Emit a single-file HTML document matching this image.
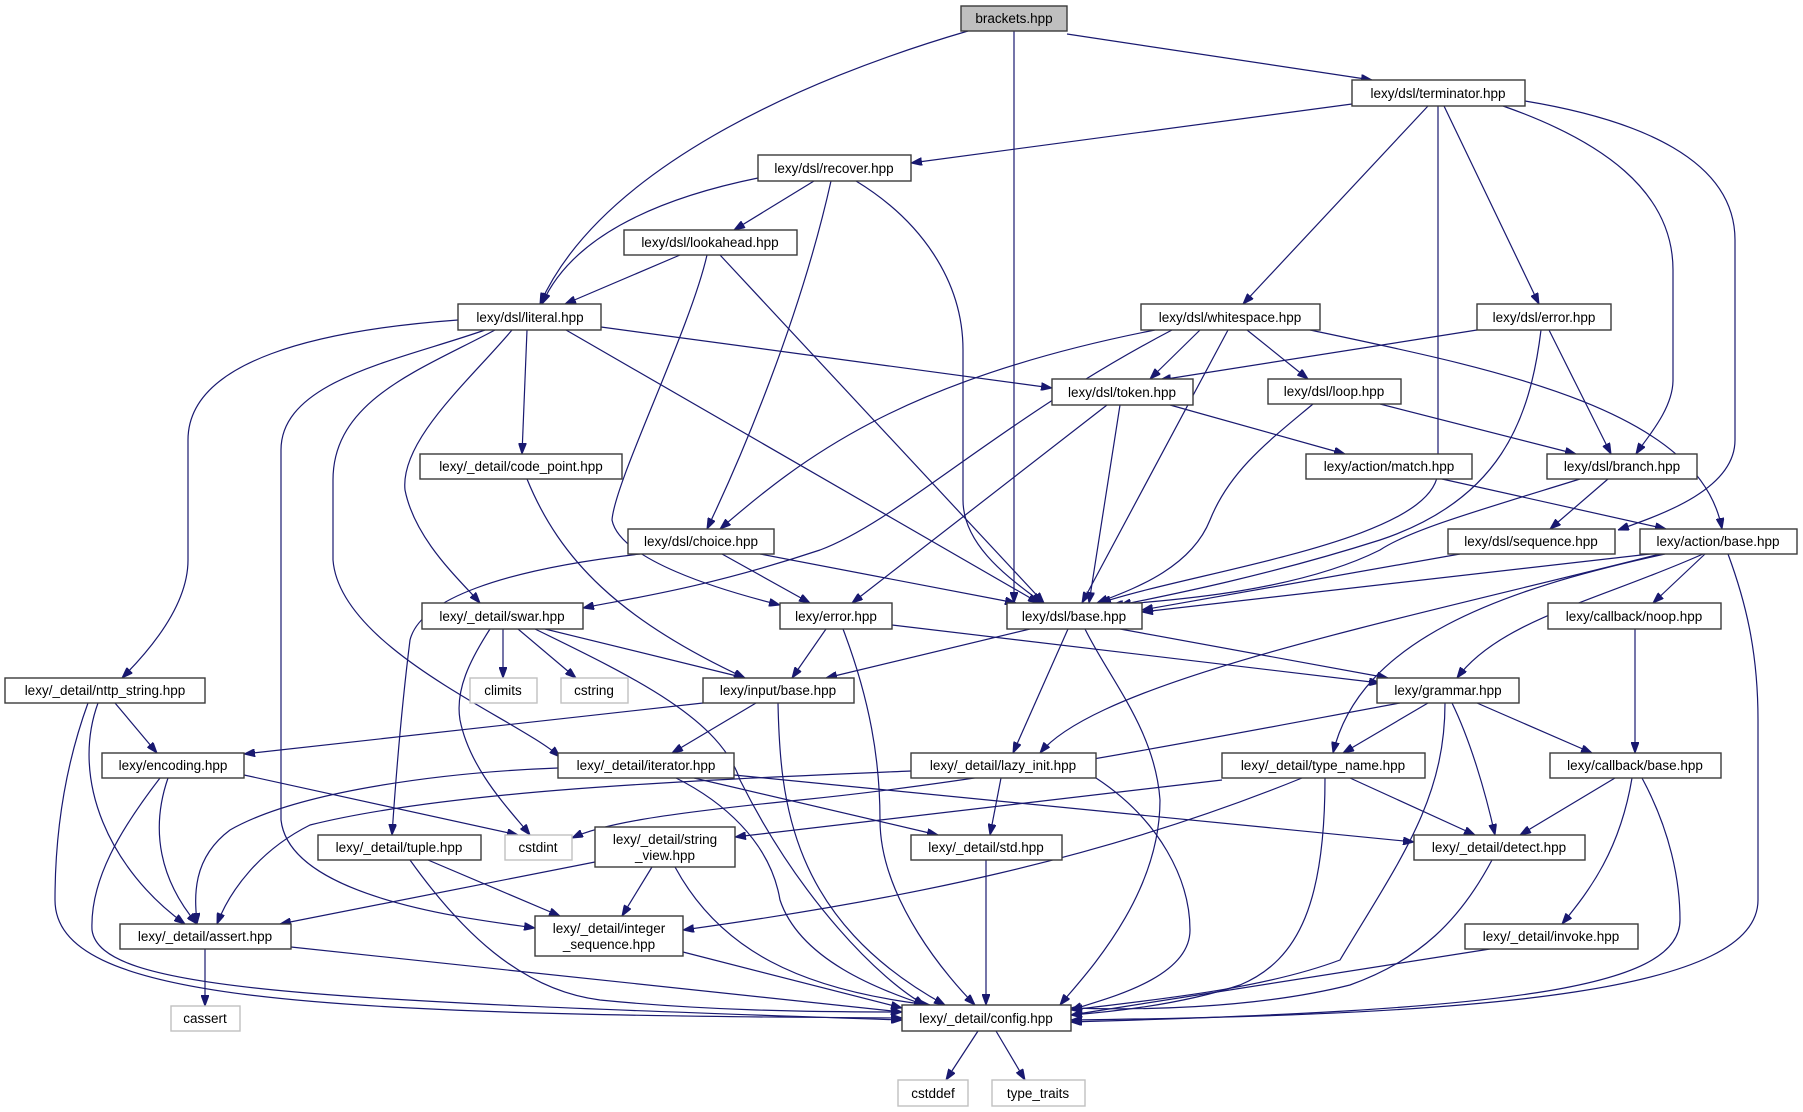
<!DOCTYPE html>
<html><head><meta charset="utf-8"><style>
html,body{margin:0;padding:0;background:#fff;}
svg{display:block;}
text{font-family:"Liberation Sans",sans-serif;font-size:13.5px;fill:#000;text-anchor:middle;}
.n{fill:#fff;stroke:#3a3a3a;stroke-width:1.4;}
.g{fill:#fff;stroke:#c0c0c0;stroke-width:1.4;}
.e{fill:none;stroke:#191970;stroke-width:1.2;marker-end:url(#a);}
</style></head><body>
<svg width="1803" height="1112" viewBox="0 0 1803 1112" xmlns="http://www.w3.org/2000/svg">
<defs><marker id="a" markerUnits="userSpaceOnUse" markerWidth="11" markerHeight="8" refX="11" refY="4" orient="auto"><path d="M0,0 L11,4 L0,8 z" fill="#191970" stroke="#191970"/></marker></defs>
<g>
<path class="e" d="M968,31 C800,80 600,170 540,304"/>
<path class="e" d="M1014,31 L1014,603"/>
<path class="e" d="M1067,34 L1372,80"/>
<path class="e" d="M1352,104 L911,163"/>
<path class="e" d="M1428,106 L1243,304"/>
<path class="e" d="M1438,106 L1438,470 C1438,540 1200,570 1100,603"/>
<path class="e" d="M1444,106 L1539,304"/>
<path class="e" d="M1503,106 C1600,140 1673,190 1673,270 L1673,380 C1673,410 1645,440 1636,454"/>
<path class="e" d="M1525,101 C1640,120 1735,160 1735,240 L1735,440 C1735,490 1660,515 1618,530"/>
<path class="e" d="M758,178 C650,200 570,240 542,304"/>
<path class="e" d="M814,181 L734,230"/>
<path class="e" d="M831,181 C800,320 740,460 707,529"/>
<path class="e" d="M856,181 C920,220 963,280 963,350 L963,500 C963,550 1020,585 1042,603"/>
<path class="e" d="M680,255 L565,304"/>
<path class="e" d="M707,255 C690,330 615,480 612,520 C620,560 720,590 780,605"/>
<path class="e" d="M720,255 L1044,603"/>
<path class="e" d="M601,327 L1052,388"/>
<path class="e" d="M566,330 L1039,603"/>
<path class="e" d="M527,330 L522,454"/>
<path class="e" d="M512,330 C470,380 400,440 405,490 C415,540 460,580 480,603"/>
<path class="e" d="M495,330 C420,370 333,400 333,480 L333,560 C340,650 520,720 560,757"/>
<path class="e" d="M485,330 C400,360 281,380 281,450 L281,820 C290,900 480,920 535,928"/>
<path class="e" d="M458,320 C320,330 188,360 188,440 L188,560 C188,610 140,660 122,678"/>
<path class="e" d="M1200,330 L1150,379"/>
<path class="e" d="M1228,330 L1082,603"/>
<path class="e" d="M1247,330 L1308,379"/>
<path class="e" d="M1310,330 C1500,370 1700,410 1722,529"/>
<path class="e" d="M1155,330 C900,380 800,460 720,529"/>
<path class="e" d="M1172,330 C1000,420 900,520 820,550 C700,590 620,600 583,608"/>
<path class="e" d="M1477,330 L1160,380"/>
<path class="e" d="M1541,330 C1530,420 1500,500 1380,540 C1270,575 1170,595 1120,605"/>
<path class="e" d="M1549,330 L1611,454"/>
<path class="e" d="M1120,405 L1089,603"/>
<path class="e" d="M1107,405 L852,603"/>
<path class="e" d="M1170,405 L1345,454"/>
<path class="e" d="M1313,404 C1270,440 1230,470 1210,520 C1190,570 1130,590 1097,603"/>
<path class="e" d="M1380,404 L1576,454"/>
<path class="e" d="M1442,479 L1666,529"/>
<path class="e" d="M1608,479 L1550,529"/>
<path class="e" d="M1580,479 C1480,510 1410,530 1380,550 C1300,590 1180,600 1112,605"/>
<path class="e" d="M1460,554 L1142,610"/>
<path class="e" d="M1650,554 L1142,612"/>
<path class="e" d="M1703,554 C1600,600 1500,620 1457,678"/>
<path class="e" d="M1705,554 L1653,603"/>
<path class="e" d="M1728,554 C1745,600 1758,650 1758,720 L1758,900 C1758,990 1500,1015 1071,1020"/>
<path class="e" d="M1660,554 C1400,620 1100,680 1040,753"/>
<path class="e" d="M1665,554 C1500,590 1360,640 1333,753"/>
<path class="e" d="M640,554 C500,570 420,600 410,640 C400,720 395,790 392,835"/>
<path class="e" d="M722,554 L810,603"/>
<path class="e" d="M760,554 L1016,603"/>
<path class="e" d="M503,629 L503,678"/>
<path class="e" d="M518,629 L576,678"/>
<path class="e" d="M545,629 L745,678"/>
<path class="e" d="M535,629 C640,680 720,720 740,780 C800,900 880,980 925,1005"/>
<path class="e" d="M490,629 C470,660 455,690 460,720 C470,770 510,810 530,835"/>
<path class="e" d="M826,629 L792,678"/>
<path class="e" d="M892,625 L1380,683"/>
<path class="e" d="M843,629 C870,700 880,760 880,820 C880,900 950,980 975,1005"/>
<path class="e" d="M1030,629 L826,678"/>
<path class="e" d="M1120,629 L1388,678"/>
<path class="e" d="M1068,629 L1013,753"/>
<path class="e" d="M1085,629 C1110,680 1155,730 1160,800 C1160,900 1080,980 1060,1005"/>
<path class="e" d="M527,479 C560,560 620,620 745,678"/>
<path class="e" d="M115,703 L157,753"/>
<path class="e" d="M98,703 C70,780 110,870 185,924"/>
<path class="e" d="M88,703 C60,780 55,850 55,900 C55,1000 300,1015 902,1018"/>
<path class="e" d="M703,703 L244,754"/>
<path class="e" d="M756,703 L672,753"/>
<path class="e" d="M778,703 C780,800 790,920 945,1005"/>
<path class="e" d="M1428,703 L1343,753"/>
<path class="e" d="M1477,703 L1592,753"/>
<path class="e" d="M1452,703 C1470,740 1485,790 1495,835"/>
<path class="e" d="M1445,703 C1445,800 1400,860 1340,960 C1260,990 1150,1000 1071,1010"/>
<path class="e" d="M1400,703 C1200,740 1000,780 800,800 C650,815 600,825 572,838"/>
<path class="e" d="M244,775 L518,835"/>
<path class="e" d="M168,778 C150,830 160,880 197,924"/>
<path class="e" d="M160,778 C120,830 90,880 92,930 C100,990 300,1000 902,1020"/>
<path class="e" d="M558,768 C450,772 300,790 230,830 C190,860 195,900 197,924"/>
<path class="e" d="M676,778 C720,800 770,840 780,900 C800,960 880,990 925,1005"/>
<path class="e" d="M694,778 L938,835"/>
<path class="e" d="M734,775 L1414,842"/>
<path class="e" d="M911,771 C700,780 450,790 310,825 C260,850 230,890 217,924"/>
<path class="e" d="M1001,778 L990,835"/>
<path class="e" d="M1096,778 C1160,820 1190,880 1190,930 C1190,980 1100,1000 1071,1010"/>
<path class="e" d="M1222,780 L735,837"/>
<path class="e" d="M1302,778 C1100,860 900,900 683,930"/>
<path class="e" d="M1350,778 L1475,835"/>
<path class="e" d="M1325,778 C1325,900 1300,960 1240,985 C1180,1005 1110,1012 1071,1015"/>
<path class="e" d="M1615,778 L1520,835"/>
<path class="e" d="M1632,778 C1620,850 1590,890 1562,924"/>
<path class="e" d="M1642,778 C1670,830 1680,880 1680,920 C1680,990 1500,1010 1071,1022"/>
<path class="e" d="M1635,629 L1635,753"/>
<path class="e" d="M428,860 L560,916"/>
<path class="e" d="M410,860 C460,930 520,990 600,1000 C700,1010 800,1012 902,1012"/>
<path class="e" d="M595,862 L280,924"/>
<path class="e" d="M652,867 L622,916"/>
<path class="e" d="M675,867 C720,950 800,990 930,1005"/>
<path class="e" d="M986,860 L986,1005"/>
<path class="e" d="M1492,860 C1460,920 1420,960 1350,985 C1250,1010 1130,1010 1071,1008"/>
<path class="e" d="M205,949 L205,1006"/>
<path class="e" d="M291,947 L902,1012"/>
<path class="e" d="M683,952 L902,1008"/>
<path class="e" d="M1490,949 L1071,1015"/>
<path class="e" d="M978,1031 L946,1080"/>
<path class="e" d="M996,1031 L1025,1080"/>
</g>
<g>
<rect x="961" y="6" width="106" height="25" fill="#bfbfbf" stroke="#3a3a3a" stroke-width="1.4"/><text x="1014" y="23">brackets.hpp</text>
<rect class="n" x="1352" y="80" width="173" height="26"/><text x="1438" y="98">lexy/dsl/terminator.hpp</text>
<rect class="n" x="758" y="155" width="153" height="26"/><text x="834" y="173">lexy/dsl/recover.hpp</text>
<rect class="n" x="624" y="230" width="173" height="25"/><text x="710" y="247">lexy/dsl/lookahead.hpp</text>
<rect class="n" x="458" y="304" width="143" height="26"/><text x="530" y="322">lexy/dsl/literal.hpp</text>
<rect class="n" x="1141" y="304" width="179" height="26"/><text x="1230" y="322">lexy/dsl/whitespace.hpp</text>
<rect class="n" x="1477" y="304" width="134" height="26"/><text x="1544" y="322">lexy/dsl/error.hpp</text>
<rect class="n" x="1052" y="379" width="141" height="26"/><text x="1122" y="397">lexy/dsl/token.hpp</text>
<rect class="n" x="1268" y="379" width="133" height="25"/><text x="1334" y="396">lexy/dsl/loop.hpp</text>
<rect class="n" x="420" y="454" width="202" height="25"/><text x="521" y="471">lexy/_detail/code_point.hpp</text>
<rect class="n" x="1306" y="454" width="166" height="25"/><text x="1389" y="471">lexy/action/match.hpp</text>
<rect class="n" x="1547" y="454" width="150" height="25"/><text x="1622" y="471">lexy/dsl/branch.hpp</text>
<rect class="n" x="628" y="529" width="146" height="25"/><text x="701" y="546">lexy/dsl/choice.hpp</text>
<rect class="n" x="1448" y="529" width="167" height="25"/><text x="1531" y="546">lexy/dsl/sequence.hpp</text>
<rect class="n" x="1640" y="529" width="157" height="25"/><text x="1718" y="546">lexy/action/base.hpp</text>
<rect class="n" x="422" y="603" width="161" height="26"/><text x="502" y="621">lexy/_detail/swar.hpp</text>
<rect class="n" x="780" y="603" width="112" height="26"/><text x="836" y="621">lexy/error.hpp</text>
<rect class="n" x="1007" y="603" width="135" height="26"/><text x="1074" y="621">lexy/dsl/base.hpp</text>
<rect class="n" x="1548" y="603" width="173" height="26"/><text x="1634" y="621">lexy/callback/noop.hpp</text>
<rect class="n" x="5" y="678" width="200" height="25"/><text x="105" y="695">lexy/_detail/nttp_string.hpp</text>
<rect class="g" x="470" y="678" width="67" height="25"/><text x="503" y="695">climits</text>
<rect class="g" x="561" y="678" width="67" height="25"/><text x="594" y="695">cstring</text>
<rect class="n" x="703" y="678" width="151" height="25"/><text x="778" y="695">lexy/input/base.hpp</text>
<rect class="n" x="1377" y="678" width="142" height="25"/><text x="1448" y="695">lexy/grammar.hpp</text>
<rect class="n" x="102" y="753" width="142" height="25"/><text x="173" y="770">lexy/encoding.hpp</text>
<rect class="n" x="558" y="753" width="176" height="25"/><text x="646" y="770">lexy/_detail/iterator.hpp</text>
<rect class="n" x="911" y="753" width="185" height="25"/><text x="1003" y="770">lexy/_detail/lazy_init.hpp</text>
<rect class="n" x="1222" y="753" width="203" height="25"/><text x="1323" y="770">lexy/_detail/type_name.hpp</text>
<rect class="n" x="1550" y="753" width="171" height="25"/><text x="1635" y="770">lexy/callback/base.hpp</text>
<rect class="n" x="318" y="835" width="163" height="25"/><text x="399" y="852">lexy/_detail/tuple.hpp</text>
<rect class="g" x="505" y="835" width="67" height="25"/><text x="538" y="852">cstdint</text>
<rect class="n" x="595" y="827" width="140" height="40"/><text x="665" y="844">lexy/_detail/string</text><text x="665" y="860">_view.hpp</text>
<rect class="n" x="911" y="835" width="151" height="25"/><text x="986" y="852">lexy/_detail/std.hpp</text>
<rect class="n" x="1414" y="835" width="171" height="25"/><text x="1499" y="852">lexy/_detail/detect.hpp</text>
<rect class="n" x="120" y="924" width="171" height="25"/><text x="205" y="941">lexy/_detail/assert.hpp</text>
<rect class="n" x="535" y="916" width="148" height="40"/><text x="609" y="933">lexy/_detail/integer</text><text x="609" y="949">_sequence.hpp</text>
<rect class="n" x="1465" y="924" width="173" height="25"/><text x="1551" y="941">lexy/_detail/invoke.hpp</text>
<rect class="g" x="171" y="1006" width="69" height="25"/><text x="205" y="1023">cassert</text>
<rect class="n" x="902" y="1005" width="169" height="26"/><text x="986" y="1023">lexy/_detail/config.hpp</text>
<rect class="g" x="898" y="1080" width="70" height="26"/><text x="933" y="1098">cstddef</text>
<rect class="g" x="992" y="1080" width="93" height="26"/><text x="1038" y="1098">type_traits</text>
</g>
</svg>
</body></html>
